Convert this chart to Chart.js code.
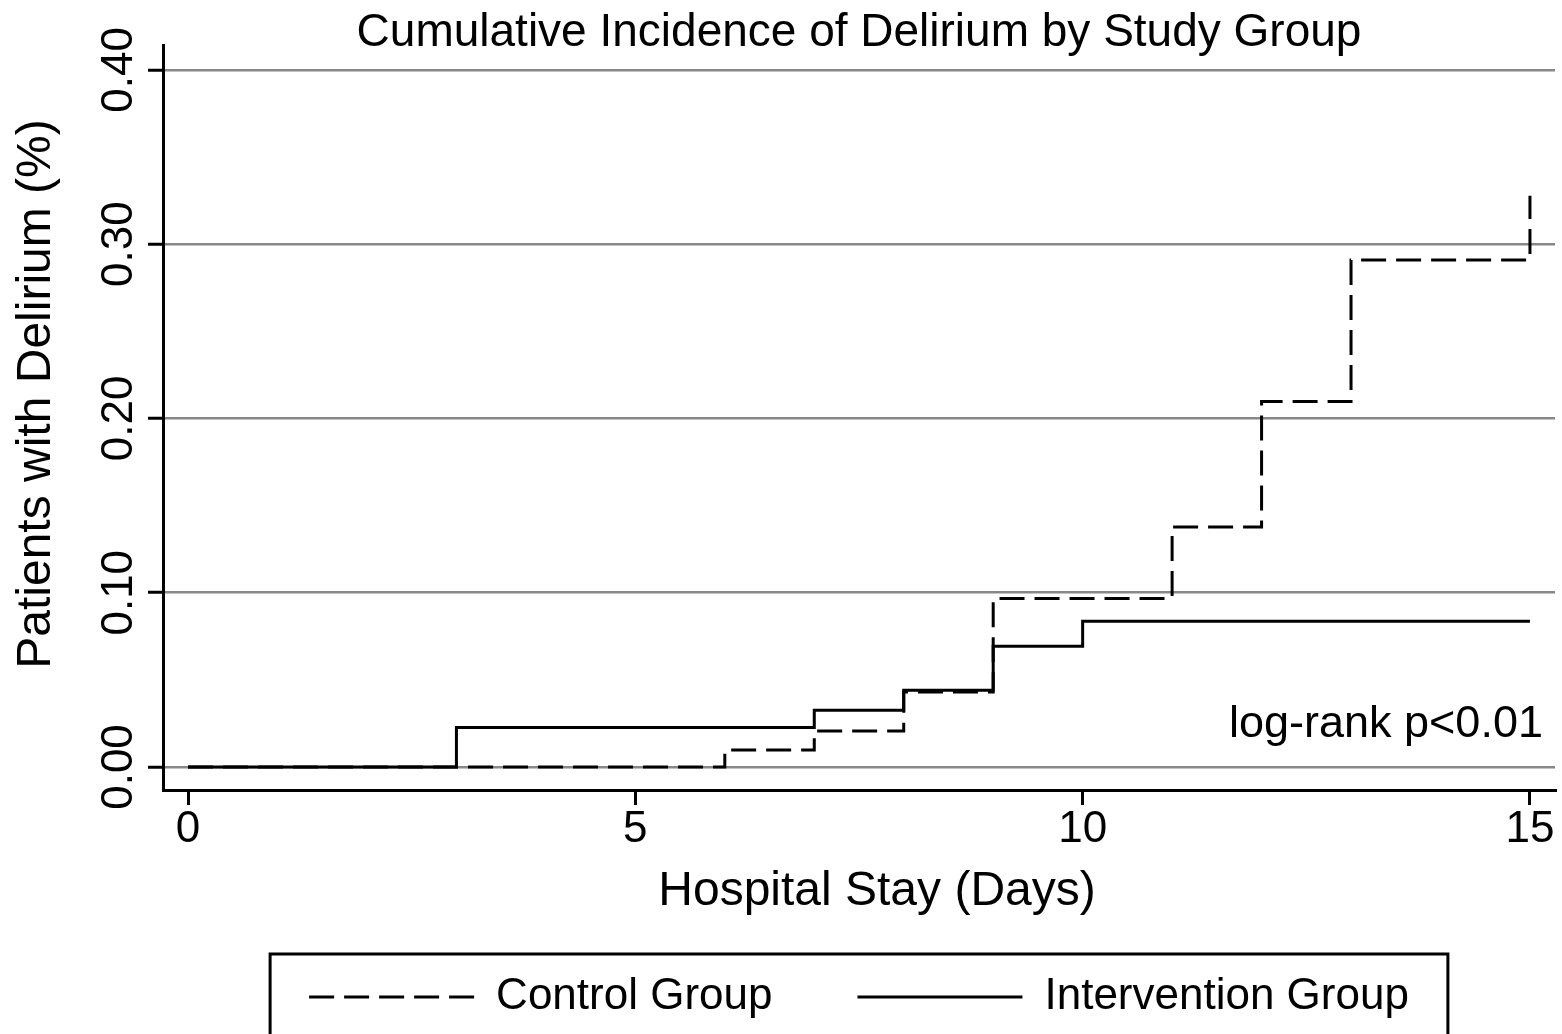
<!DOCTYPE html>
<html>
<head>
<meta charset="utf-8">
<script src="https://cdn.jsdelivr.net/npm/chart.js"></script>
<style>
  html, body { margin: 0; padding: 0; background: #fff; }
  #wrap { width: 1562px; height: 1034px; position: relative; }
</style>
</head>
<body>
<div id="wrap"><canvas id="km"></canvas></div>
<script>
// Kaplan-Meier style cumulative incidence
const controlDays = [0, 6, 7, 8, 9, 11, 12, 13, 15];
const controlRisk = [0, 0.0097, 0.0206, 0.0431, 0.0967, 0.1377, 0.2097, 0.2909, 0.3278];
const interventionDays = [0, 3, 7, 8, 9, 10, 15];
const interventionRisk = [0, 0.0227, 0.0325, 0.0441, 0.0693, 0.0837, 0.0837];

const xTicks = [0, 5, 10, 15];
const yTicks = [0, 0.1, 0.2, 0.3, 0.4];

const chartTitle = "Cumulative Incidence of Delirium by Study Group";
const xTitle = "Hospital Stay (Days)";
const yTitle = "Patients with Delirium (%)";
const note = "log-rank p<0.01";

const FONT = '"Liberation Sans", Arial, Helvetica, sans-serif';
Chart.defaults.font.family = FONT;
Chart.defaults.color = "#000";

const toPoints = (xs, ys) => xs.map((x, i) => ({ x, y: ys[i] }));

// axis titles, note and the framed legend box
const extras = {
  id: "extras",
  afterDraw(chart) {
    const { ctx, chartArea, scales, legend } = chart;
    ctx.save();
    ctx.fillStyle = "#000";
    ctx.textBaseline = "alphabetic";

    ctx.font = "48px " + FONT;
    ctx.textAlign = "center";
    const cx = (chartArea.left + chartArea.right) / 2;
    ctx.fillText(xTitle, cx + 18, chartArea.bottom + 115);

    ctx.save();
    ctx.translate(chartArea.left - 113, chartArea.top + 349);
    ctx.rotate(-Math.PI / 2);
    ctx.fillText(yTitle, 0, 0);
    ctx.restore();

    ctx.font = "45px " + FONT;
    ctx.textAlign = "right";
    ctx.fillText(note, scales.x.getPixelForValue(15) + 13, scales.y.getPixelForValue(0) - 30);

    const boxes = legend.legendHitBoxes;
    if (boxes && boxes.length) {
      const first = boxes[0];
      const last = boxes[boxes.length - 1];
      const left = first.left - 39;
      const right = last.left + last.width + 39;
      const top = first.top - 21;
      ctx.strokeStyle = "#000";
      ctx.lineWidth = 3;
      ctx.strokeRect(left, top, right - left, 140);
    }
    ctx.restore();
  }
};

new Chart(document.getElementById("km"), {
  type: "line",
  data: {
    datasets: [
      {
        label: "Control Group",
        data: toPoints(controlDays, controlRisk),
        borderColor: "#000",
        backgroundColor: "#000",
        borderWidth: 3,
        borderDash: [25, 10],
        stepped: "before",
        pointRadius: 0,
        fill: false
      },
      {
        label: "Intervention Group",
        data: toPoints(interventionDays, interventionRisk),
        borderColor: "#000",
        backgroundColor: "#000",
        borderWidth: 3,
        stepped: "before",
        pointRadius: 0,
        fill: false
      }
    ]
  },
  options: {
    responsive: true,
    maintainAspectRatio: false,
    animation: false,
    layout: { padding: { left: 0, right: 7, top: 0, bottom: 5 } },
    plugins: {
      tooltip: { enabled: false },
      title: {
        display: true,
        text: chartTitle,
        fullSize: false,
        color: "#000",
        font: { size: 46, weight: "normal", lineHeight: "34px" },
        padding: { top: 16, bottom: -5 }
      },
      legend: {
        position: "bottom",
        fullSize: false,
        labels: {
          usePointStyle: true,
          pointStyle: "line",
          pointStyleWidth: 165,
          padding: 85,
          color: "#000",
          font: { size: 44 },
          generateLabels: (chart) =>
            Chart.defaults.plugins.legend.labels.generateLabels(chart).map((item) => {
              const ds = chart.data.datasets[item.datasetIndex];
              item.lineDash = ds.borderDash || [];
              item.lineWidth = ds.borderWidth;
              item.strokeStyle = ds.borderColor;
              return item;
            })
        }
      }
    },
    scales: {
      x: {
        type: "linear",
        min: -0.28,
        max: 15.28,
        afterBuildTicks: (s) => { s.ticks = xTicks.map((v) => ({ value: v })); },
        afterFit: (s) => { s.height = 100; },
        border: { display: true, color: "#000", width: 3 },
        grid: {
          drawOnChartArea: false,
          drawTicks: true,
          tickLength: 15,
          tickColor: "#000",
          tickWidth: 3,
          color: "#000",
          lineWidth: 3
        },
        ticks: {
          color: "#000",
          font: { size: 44, lineHeight: 1 },
          padding: 3,
          maxRotation: 0,
          autoSkip: false,
          callback: (v) => String(v)
        }
      },
      y: {
        type: "linear",
        min: -0.0132,
        max: 0.4143,
        afterBuildTicks: (s) => { s.ticks = yTicks.map((v) => ({ value: v })); },
        afterFit: (s) => { s.width = 163; },
        border: { display: true, color: "#000", width: 3 },
        grid: {
          drawOnChartArea: true,
          color: "#888888",
          lineWidth: 2.5,
          drawTicks: true,
          tickLength: 15,
          tickColor: "#000",
          tickWidth: 3
        },
        ticks: {
          color: "#000",
          font: { size: 44, lineHeight: 1 },
          minRotation: 90,
          maxRotation: 90,
          crossAlign: "center",
          padding: -15,
          autoSkip: false,
          callback: (v) => Number(v).toFixed(2)
        }
      }
    }
  },
  plugins: [extras]
});
</script>
</body>
</html>
